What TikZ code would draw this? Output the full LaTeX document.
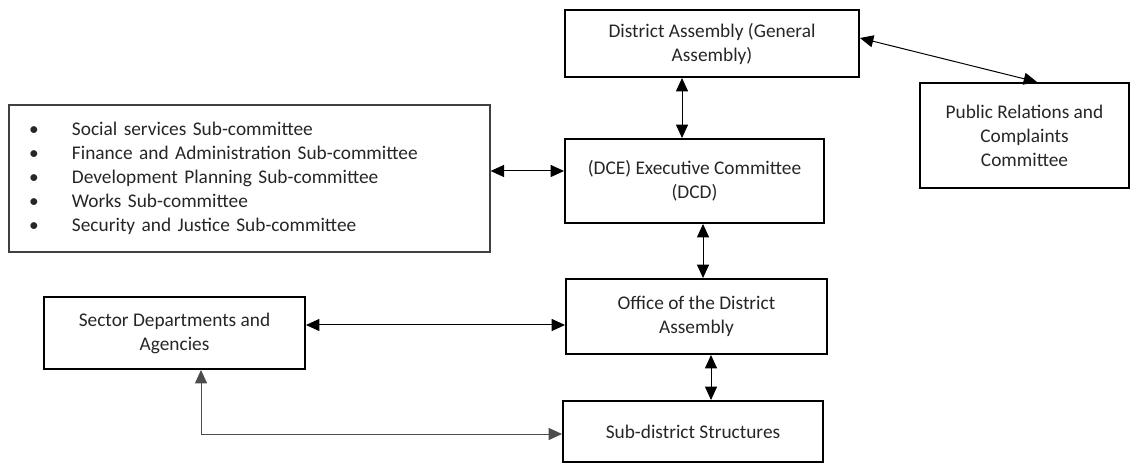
\documentclass[tikz,border=0pt]{standalone}
\usepackage{fontspec}
\setmainfont{Carlito}
\usepackage{tikz}
\usetikzlibrary{arrows.meta,positioning}

\begin{document}
\begin{tikzpicture}[
                x=0.75pt, y=-0.75pt,
                mainbox/.style={rectangle, draw, line width=1.5pt, align=center, text=black!85, font=\fontsize{14.5}{18}\selectfont, inner sep=2pt},
                listbox/.style={rectangle, draw=black!75, line width=1pt, align=left, text=black!85, font=\fontsize{14.5}{18}\selectfont, inner xsep=15pt, text width=330.75pt, minimum height=110.25pt},
                link/.style={{Triangle[length=10pt,width=9pt]}-{Triangle[length=10pt,width=9pt]}, line width=0.75pt},
                elbow/.style={link, draw=black!70}
            ]
                \useasboundingbox (0,0) rectangle (1131,466);

                % Top of the structure
                \node[mainbox, minimum width=220.5pt, minimum height=50.25pt] (da) at (712,43.5) {District Assembly (General\\Assembly)};
                \node[mainbox, minimum width=156.75pt, minimum height=78.75pt] (pr) at (1024.5,135.5) {Public Relations and\\Complaints\\Committee};

                % Executive level and its sub-committees
                \node[mainbox, minimum width=194.25pt, minimum height=63pt] (dce) at (694.5,181) {(DCE) Executive Committee\\(DCD)};
                \node[listbox] (subs) at (249.5,178.5) {%
                    \makebox[32.25pt][l]{\textbullet}Social services Sub-committee\\
                    \makebox[32.25pt][l]{\textbullet}Finance and Administration Sub-committee\\
                    \makebox[32.25pt][l]{\textbullet}Development Planning Sub-committee\\
                    \makebox[32.25pt][l]{\textbullet}Works Sub-committee\\
                    \makebox[32.25pt][l]{\textbullet}Security and Justice Sub-committee};

                % Office and lower levels
                \node[mainbox, minimum width=195.75pt, minimum height=56.25pt] (office) at (696.5,316.5) {Office of the District\\Assembly};
                \node[mainbox, minimum width=195.75pt, minimum height=54pt] (sector) at (174.5,333) {Sector Departments and\\Agencies};
                \node[mainbox, minimum width=195pt, minimum height=45.75pt] (subd) at (693,431.5) {Sub-district Structures};

                % Connector columns and rows
                \coordinate (c1) at (682,0);
                \coordinate (c2) at (703,0);
                \coordinate (c3) at (711,0);
                \coordinate (c4) at (201,0);
                \coordinate (r1) at (0,171);
                \coordinate (r2) at (0,325);
                \coordinate (r3) at (0,434);

                % Two-way links
                \draw[link] (da.south -| c1) -- (dce.north -| c1);
                \draw[link] ([yshift=4.125pt]da.east) -- ([xshift=9.375pt]pr.north);
                \draw[link] (subs.east |- r1) -- (dce.west |- r1);
                \draw[link] (dce.south -| c2) -- (office.north -| c2);
                \draw[link] (sector.east |- r2) -- (office.west |- r2);
                \draw[link] (office.south -| c3) -- (subd.north -| c3);
                \draw[elbow] (sector.south -| c4) |- (subd.west |- r3);
            \end{tikzpicture}
\end{document}
